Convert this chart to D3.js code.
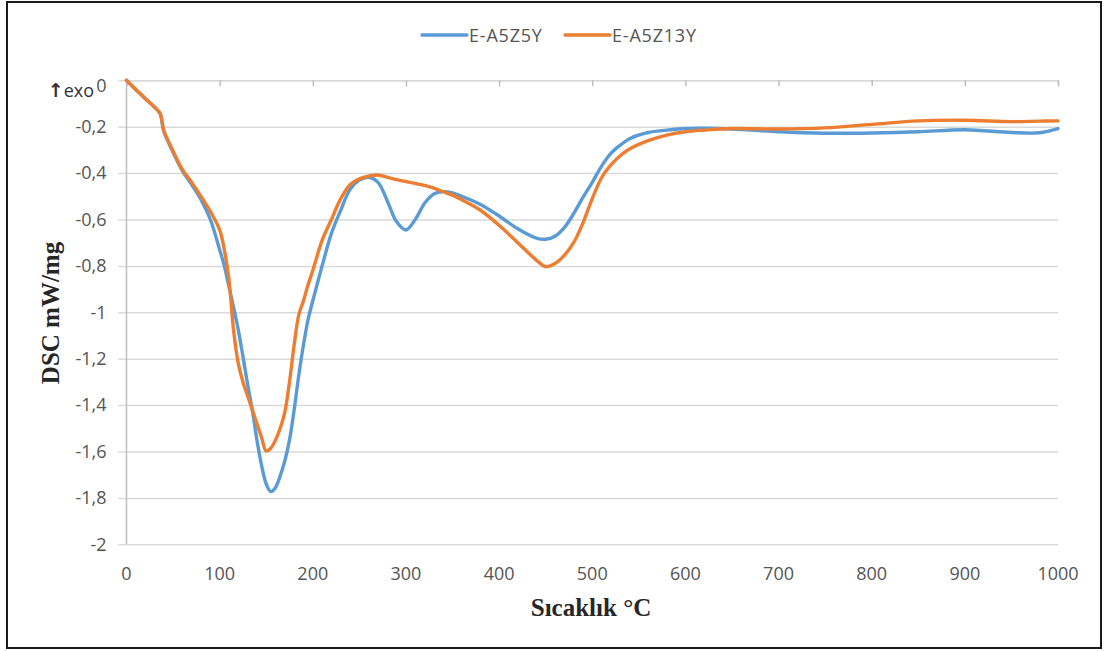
<!DOCTYPE html>
<html>
<head>
<meta charset="utf-8">
<script src="https://cdn.jsdelivr.net/npm/d3@7/dist/d3.min.js"></script>
<style>
  html, body { margin: 0; padding: 0; background: #fff; }
  svg { display: block; }
</style>
</head>
<body>
<svg id="chart" width="1105" height="651"></svg>
<script>
// DSC curves (heat flow vs temperature) for two samples
const temperature = [0, 10, 20, 30, 36, 40, 50, 60, 70, 80, 90, 100, 105, 110, 115, 120, 125, 130, 135, 140,
  145, 150, 155, 160, 165, 170, 175, 180, 185, 190, 195, 200, 210, 220, 230, 240, 250, 260, 270, 280,
  290, 300, 310, 320, 330, 340, 350, 360, 380, 400, 420, 440, 450, 460, 470, 480, 490, 500, 510, 520,
  530, 540, 560, 580, 600, 620, 650, 700, 750, 800, 850, 900, 950, 980, 1000];

const seriesA5Z5Y = [0, -0.04, -0.078, -0.115, -0.142, -0.22, -0.31, -0.39, -0.45, -0.515, -0.6, -0.73, -0.8, -0.89, -0.98, -1.076, -1.19, -1.31, -1.42, -1.55,
  -1.66, -1.74, -1.773, -1.755, -1.705, -1.64, -1.55, -1.42, -1.27, -1.14, -1.03, -0.95, -0.8, -0.66, -0.56, -0.47, -0.43, -0.418, -0.44, -0.52,
  -0.61, -0.645, -0.6, -0.53, -0.49, -0.48, -0.485, -0.5, -0.535, -0.585, -0.64, -0.68, -0.685, -0.672, -0.635, -0.575, -0.505, -0.44, -0.37, -0.315,
  -0.28, -0.252, -0.225, -0.215, -0.208, -0.207, -0.21, -0.222, -0.228, -0.227, -0.222, -0.213, -0.225, -0.226, -0.208];

const seriesA5Z13Y = [0, -0.04, -0.078, -0.115, -0.142, -0.215, -0.305, -0.385, -0.44, -0.5, -0.565, -0.645, -0.73, -0.86, -1.08, -1.22, -1.30, -1.36, -1.42, -1.48,
  -1.54, -1.598, -1.585, -1.55, -1.5, -1.43, -1.3, -1.14, -1.01, -0.95, -0.88, -0.82, -0.69, -0.6, -0.51, -0.45, -0.425, -0.413, -0.408, -0.418,
  -0.428, -0.437, -0.445, -0.453, -0.465, -0.48, -0.495, -0.515, -0.56, -0.625, -0.7, -0.775, -0.803, -0.79, -0.755, -0.7, -0.615, -0.51, -0.42, -0.365,
  -0.325, -0.296, -0.26, -0.236, -0.222, -0.215, -0.208, -0.21, -0.205, -0.19, -0.175, -0.172, -0.178, -0.176, -0.175];

const seriesNames = ["E-A5Z5Y", "E-A5Z13Y"];
const seriesColors = ["#5B9BD5", "#ED7D31"];
const xTicks = [0, 100, 200, 300, 400, 500, 600, 700, 800, 900, 1000];
const yTicks = [0, -0.2, -0.4, -0.6, -0.8, -1, -1.2, -1.4, -1.6, -1.8, -2];

const svg = d3.select("#chart");
const tickFont = "'Open Sans', 'Liberation Sans', sans-serif";
const titleFont = "'Liberation Serif', 'DejaVu Serif', serif";
const labelColor = "#555555";

// comma decimal separator and plain hyphen for negatives
const fmtTick = d => {
  if (d === 0) return "0";
  const s = (Math.round(d * 10) / 10).toString().replace(".", ",");
  return s.replace("\u2212", "-");
};

// outer frame
svg.append("rect")
  .attr("x", 7).attr("y", 2).attr("width", 1094).attr("height", 646)
  .attr("fill", "#fff").attr("stroke", "#1a1a1a").attr("stroke-width", 2);

const x = d3.scaleLinear().domain([0, 1000]).range([126.5, 1058]);
const y = d3.scaleLinear().domain([-2, 0]).range([544.3, 80.3]);

// horizontal gridlines with left tick marks
const yAxis = d3.axisLeft(y)
  .tickValues(yTicks)
  .tickSize(-(x(1000) - x(0)))
  .tickFormat(fmtTick);
const gy = svg.append("g").attr("transform", `translate(${x(0)},0)`).call(yAxis);
gy.select(".domain").remove();
gy.selectAll(".tick line")
  .attr("x1", -8)
  .attr("stroke", "#d9d9d9").attr("stroke-width", 1.5);
gy.selectAll(".tick text")
  .attr("x", -20)
  .attr("dy", d => d === 0 ? "0.62em" : "0.32em")
  .attr("font-family", tickFont).attr("font-size", 18).attr("fill", labelColor);

// y axis line
svg.append("line")
  .attr("x1", x(0)).attr("x2", x(0)).attr("y1", y(0)).attr("y2", y(-2))
  .attr("stroke", "#bfbfbf").attr("stroke-width", 1.5);

// x axis sits at y = 0 with ticks pointing into the plot; labels at the bottom
const xAxis = d3.axisBottom(x).tickValues(xTicks).tickSize(6).tickFormat("");
const gx = svg.append("g").attr("transform", `translate(0,${y(0)})`).call(xAxis);
gx.select(".domain").attr("stroke", "#d9d9d9").attr("stroke-width", 1.5);
gx.selectAll(".tick line").attr("stroke", "#bfbfbf").attr("stroke-width", 1.5);

svg.append("g").selectAll("text").data(xTicks).join("text")
  .attr("x", d => x(d)).attr("y", 573)
  .attr("text-anchor", "middle").attr("dominant-baseline", "central")
  .attr("font-family", tickFont).attr("font-size", 18).attr("fill", labelColor)
  .text(d => d);

// exotherm direction marker
const exo = svg.append("text")
  .attr("x", 94).attr("y", 97)
  .attr("text-anchor", "end")
  .attr("font-family", tickFont).attr("font-size", 18).attr("fill", "#333");
exo.append("tspan").attr("font-family", "'DejaVu Sans', sans-serif").attr("font-weight", "bold")
  .attr("font-size", 19).text("\u2191");
exo.append("tspan").text("exo");

// series lines
const line = d3.line()
  .x((d, i) => x(temperature[i]))
  .y(d => y(d))
  .curve(d3.curveCatmullRom.alpha(0.5));

[seriesA5Z5Y, seriesA5Z13Y].forEach((vals, k) => {
  svg.append("path")
    .datum(vals)
    .attr("d", line)
    .attr("fill", "none")
    .attr("stroke", seriesColors[k])
    .attr("stroke-width", 3.4)
    .attr("stroke-linejoin", "round")
    .attr("stroke-linecap", "round");
});

// legend
const legendX = [422, 565];
seriesNames.forEach((name, k) => {
  const g = svg.append("g").attr("transform", `translate(${legendX[k]},35)`);
  g.append("line").attr("x1", 0).attr("x2", 45).attr("y1", 0).attr("y2", 0)
    .attr("stroke", seriesColors[k]).attr("stroke-width", 3.4).attr("stroke-linecap", "round");
  g.append("text").attr("x", 47).attr("y", 0).attr("dominant-baseline", "central")
    .attr("font-family", tickFont).attr("font-size", 18).attr("letter-spacing", 0.8)
    .attr("fill", labelColor)
    .text(name);
});

// axis titles
svg.append("text")
  .attr("transform", "translate(50,313) rotate(-90)")
  .attr("text-anchor", "middle").attr("dominant-baseline", "central")
  .attr("font-family", titleFont).attr("font-weight", "bold").attr("font-size", 25).attr("fill", "#262626")
  .text("DSC mW/mg");

svg.append("text")
  .attr("x", 591).attr("y", 607)
  .attr("text-anchor", "middle").attr("dominant-baseline", "central")
  .attr("font-family", titleFont).attr("font-weight", "bold").attr("font-size", 25).attr("fill", "#262626")
  .text("Sıcaklık °C");
</script>
</body>
</html>
